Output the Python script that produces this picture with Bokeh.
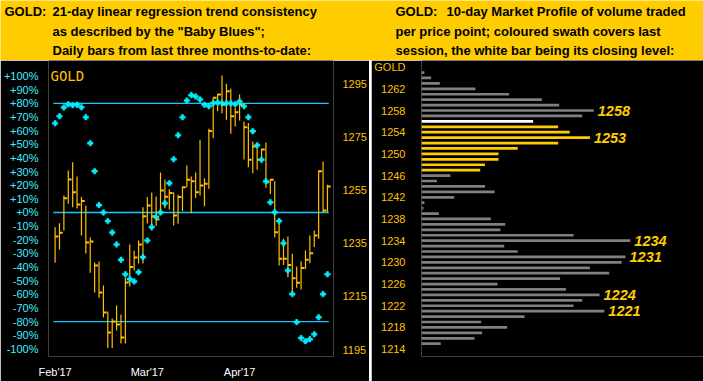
from bokeh.plotting import figure
from bokeh.models import Range1d, LinearAxis, FixedTicker, Label, ColumnDataSource
from bokeh.layouts import column, row
from bokeh.embed import file_html
from bokeh.resources import INLINE
from bokeh.core.properties import value

# ---------------- data ----------------
months = ["Feb'17", "Mar'17", "Apr'17"]
month_index = [0, 21, 42]

baby_blues = [65.4, 70.5, 77, 79.3, 78.6, 78.9, 77.1, 69.8, 50.8, 30.3,
              5.4, 0, -6.3, -14.7, -23.4, -34.7, -45.2, -48.8, -50.5, -43.7,
              -32.7, -20.5, -10.7, -3.4, 0, 6.8, 21.5, 39, 56.6, 69.8,
              82, 86, 85, 82.8, 78.9, 77.9, 80.1, 80.6, 80.1, 80,
              80, 79.3, 81.3, 77.9, 69.8, 59.6, 49.3, 38.6, 22.9, 7.5,
              0.2, -6.3, -22.5, -42.5, -59.8, -80.3, -92, -94.3, -92.8, -89.2,
              -76.7, -59.8, -45.2]

high = [1241.0, 1242.5, 1252.9, 1262.3, 1265.4, 1260.0, 1252.3, 1249.1, 1237.1, 1227.7,
        1228.1, 1219.1, 1209.3, 1206.7, 1211.5, 1208.2, 1222.1, 1234.5, 1232.2, 1236.0,
        1248.5, 1252.3, 1254.0, 1252.5, 1261.5, 1258.9, 1255.2, 1254.1, 1253.2, 1256.3,
        1264.2, 1260.0, 1261.5, 1273.9, 1259.4, 1278.0, 1289.8, 1291.1, 1298.0, 1294.9,
        1293.0, 1285.9, 1290.9, 1280.7, 1280.2, 1273.2, 1271.3, 1270.5, 1272.8, 1259.2,
        1258.3, 1242.3, 1236.6, 1237.5, 1231.0, 1226.2, 1228.2, 1232.2, 1237.9, 1239.7,
        1262.3, 1265.7, 1256.9]
low = [1227.6, 1232.6, 1239.7, 1249.8, 1248.5, 1248.0, 1237.9, 1231.1, 1223.9, 1216.4,
       1214.5, 1207.0, 1195.6, 1195.6, 1202.1, 1197.3, 1197.3, 1218.7, 1224.7, 1227.3,
       1227.3, 1242.4, 1239.7, 1241.4, 1246.0, 1248.1, 1247.6, 1241.6, 1242.3, 1247.0,
       1256.0, 1246.2, 1252.0, 1252.9, 1248.9, 1255.4, 1274.4, 1284.6, 1283.8, 1281.4,
       1276.1, 1278.8, 1281.1, 1266.4, 1263.5, 1261.3, 1262.6, 1265.4, 1255.8, 1253.5,
       1237.2, 1226.6, 1226.8, 1222.2, 1215.3, 1218.2, 1217.6, 1225.3, 1227.4, 1233.5,
       1236.6, 1246.6, 1246.6]
close = [1237.5, 1238.9, 1251.9, 1258.9, 1254.1, 1249.5, 1250.8, 1235.2, 1235.6, 1226.6,
         1216.4, 1208.9, 1201.4, 1205.5, 1204.4, 1199.5, 1220.2, 1226.0, 1229.6, 1234.5,
         1245.1, 1249.1, 1245.1, 1243.9, 1254.8, 1252.4, 1253.8, 1245.4, 1252.3, 1256.0,
         1258.8, 1258.3, 1254.1, 1256.7, 1257.3, 1277.1, 1289.6, 1290.9, 1287.0, 1292.1,
         1282.7, 1284.2, 1287.0, 1278.6, 1266.3, 1271.3, 1266.3, 1270.2, 1257.9, 1258.8,
         1239.1, 1229.1, 1229.1, 1226.8, 1221.8, 1220.1, 1225.6, 1228.7, 1231.2, 1237.9,
         1262.0, 1247.3, 1256.3]

pct_ticks = list(range(-100, 101, 10))
pct_labels = [("+%d%%" % t) if t >= 0 else ("%d%%" % t) for t in pct_ticks]
levels = [80, 0, -80]
price_ticks = [1195, 1215, 1235, 1255, 1275, 1295]

profile_price = list(range(1265, 1214, -1))
profile_volume = [3, 10, 19, 56, 91, 125, 143, 179, 167, 116,
                  142, 154, 175, 142, 100, 80, 80, 66, 61, 30,
                  16, 66, 76, 34, 3, 2, 18, 72, 87, 82,
                  158, 217, 86, 100, 212, 208, 175, 195, 144, 79,
                  150, 185, 167, 158, 190, 107, 62, 89, 63, 55,
                  20]
session_low, session_high = 1247, 1255
session_close = 1256
callouts = [1258, 1253, 1234, 1231, 1224, 1221]
profile_ticks = list(range(1214, 1263, 4))

left_title = ["21-day linear regression trend consistency",
              'as described by the "Baby Blues";',
              "Daily bars from last three months-to-date:"]
right_title = ["10-day Market Profile of volume traded",
               "per price point; coloured swath covers last",
               "session, the white bar being its closing level:"]

# ---------------- style ----------------
GOLD = "#FFC000"
HEADER = "#FFCC00"
CYAN_TXT = "#40F0FF"
CYAN_DOT = "#00F0FF"
CYAN_LINE = "#19C3FF"
FONT = "Liberation Sans"

# ---------------- header ----------------
header = figure(width=703, height=60, x_range=Range1d(0, 703), y_range=Range1d(60, 0),
                output_backend="svg", toolbar_location=None,
                x_axis_location=None, y_axis_location=None,
                background_fill_color=HEADER, border_fill_color=HEADER,
                outline_line_color=None, min_border=0)
header.grid.visible = False

rows_y = [11, 30.5, 50]
hx = [4, 52, 52, 52, 395, 446, 395, 395]
hy = [rows_y[0], rows_y[0], rows_y[1], rows_y[2], rows_y[0], rows_y[0], rows_y[1], rows_y[2]]
ht = ["GOLD:"] + left_title + ["GOLD:"] + right_title
header.text(x=hx, y=hy, text=ht, text_font=value(FONT), text_font_style="bold",
            text_font_size="13px", text_color="black", text_baseline="middle")

# ---------------- left panel ----------------
n = len(close)
idx = list(range(n))
src = ColumnDataSource(dict(i=idx, i2=[k + 0.75 for k in idx], high=high, low=low,
                            close=close, bb=baby_blues))

left = figure(width=369, height=321, output_backend="svg", toolbar_location=None,
              x_range=Range1d(-1.5, 63.38), y_range=Range1d(-105.5, 111.35),
              min_border_left=45, min_border_right=34, min_border_top=0, min_border_bottom=25,
              background_fill_color="black", border_fill_color="black",
              outline_line_color=None)
left.extra_y_ranges = {"price": Range1d(1192.37, 1303.65)}
left.grid.visible = False

ya = left.yaxis[0]
ya.ticker = FixedTicker(ticks=pct_ticks)
ya.major_label_overrides = dict(zip(pct_ticks, pct_labels))
xa = left.xaxis[0]
xa.ticker = FixedTicker(ticks=month_index)
xa.major_label_overrides = dict(zip(month_index, months))
ra = LinearAxis(y_range_name="price", ticker=FixedTicker(ticks=price_ticks))
left.add_layout(ra, "right")

for ax, col, so in ((ya, CYAN_TXT, 4), (xa, "white", 3), (ra, GOLD, 3)):
    ax.axis_line_color = None
    ax.major_tick_line_color = None
    ax.minor_tick_line_color = None
    ax.major_label_text_color = col
    ax.major_label_text_font = FONT
    ax.major_label_text_font_size = "11px"
    ax.major_label_standoff = so

left.segment(x0=[-0.4] * len(levels), x1=[n - 1 + 0.3] * len(levels), y0=levels, y1=levels,
             line_color=CYAN_LINE, line_width=1.3)
left.segment(x0="i", y0="low", x1="i", y1="high", source=src, y_range_name="price",
             line_color=GOLD, line_width=1.2)
left.segment(x0="i", y0="close", x1="i2", y1="close", source=src, y_range_name="price",
             line_color=GOLD, line_width=2)
left.scatter(x="i", y="bb", source=src, marker="plus", size=5.5,
             fill_color=CYAN_DOT, line_color=CYAN_DOT, line_width=0.5)
left.add_layout(Label(x=-1.05, y=100, text="GOLD", text_font="DejaVu Sans Mono",
                      text_font_size="14px", text_color=GOLD, text_baseline="middle"))

# ---------------- divider ----------------
strip = figure(width=2, height=321, output_backend="svg", toolbar_location=None,
               x_axis_location=None, y_axis_location=None, min_border=0,
               background_fill_color="white", border_fill_color="white",
               outline_line_color=None)
strip.grid.visible = False

# ---------------- right panel ----------------
colors = []
for pr in profile_price:
    if pr == session_close:
        colors.append("white")
    elif session_low <= pr <= session_high:
        colors.append(HEADER)
    else:
        colors.append("#808080")
psrc = ColumnDataSource(dict(price=profile_price, vol=profile_volume, color=colors))

prof = figure(width=332, height=321, output_backend="svg", toolbar_location=None,
              x_range=Range1d(0, 293), y_range=Range1d(1212.64, 1267.22),
              x_axis_location=None, min_border_left=39, min_border_right=0,
              min_border_top=0, min_border_bottom=0,
              background_fill_color="black", border_fill_color="black",
              outline_line_color=None)
prof.grid.visible = False
pa = prof.yaxis[0]
pa.ticker = FixedTicker(ticks=profile_ticks + [1266])
pa.major_label_overrides = {1266: "GOLD"}
pa.axis_line_color = None
pa.major_tick_line_color = None
pa.minor_tick_line_color = None
pa.major_label_text_color = GOLD
pa.major_label_text_font = FONT
pa.major_label_text_font_size = "11px"
pa.major_label_standoff = 10

prof.hbar(y="price", left=0, right="vol", height=0.5, fill_color="color",
          line_color=None, source=psrc)

vol_of = dict(zip(profile_price, profile_volume))
csrc = ColumnDataSource(dict(x=[vol_of[c] for c in callouts], y=callouts,
                             t=[str(c) for c in callouts]))
prof.text(x="x", y="y", text="t", source=csrc, x_offset=4, text_baseline="middle",
          text_font=value(FONT), text_font_style="bold italic",
          text_font_size="14.5px", text_color=HEADER)

layout = column(header, row(left, strip, prof, spacing=0), spacing=0)

open("out.html", "w").write(file_html(layout, INLINE))
